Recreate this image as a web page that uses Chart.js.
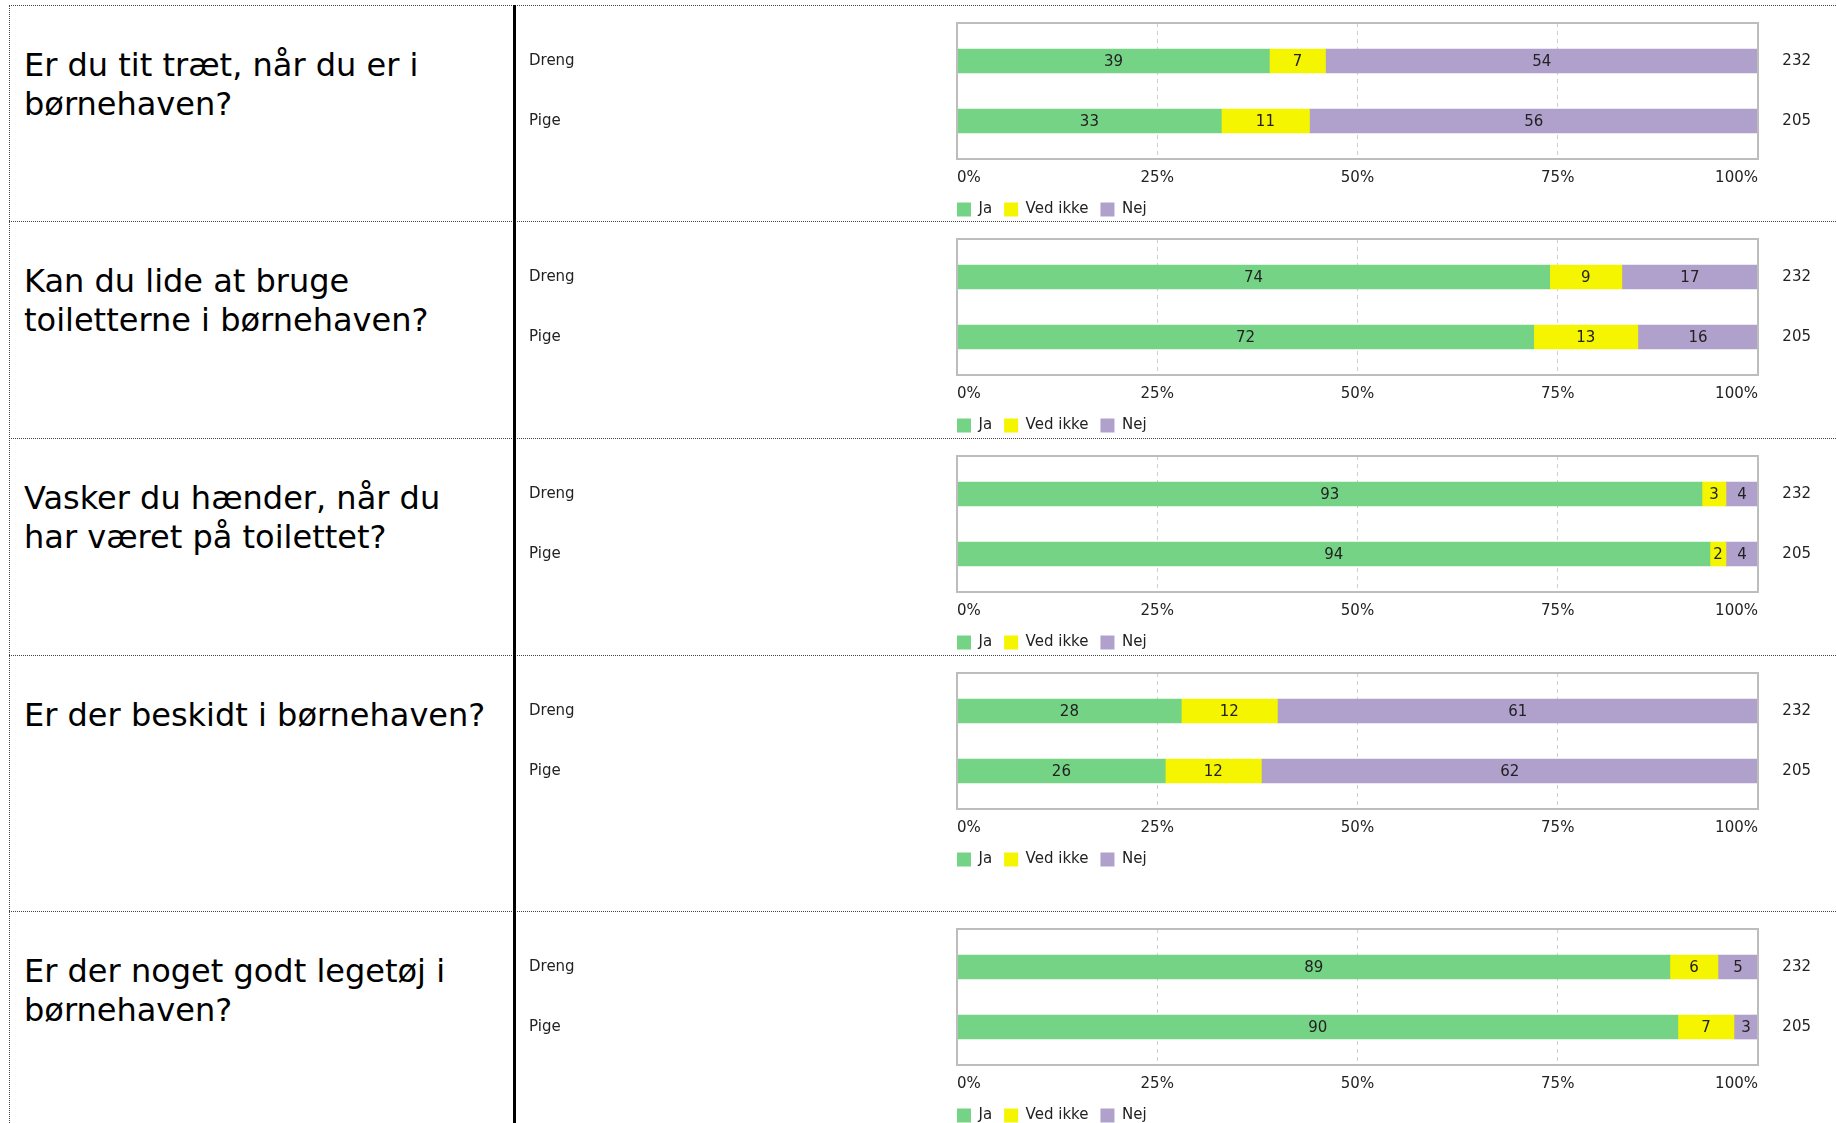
<!DOCTYPE html>
<html><head><meta charset="utf-8">
<script src="https://cdn.jsdelivr.net/npm/chart.js@4.4.1/dist/chart.umd.min.js"></script>
<style>
html,body{margin:0;padding:0;background:#fff;}
body{width:1836px;height:1123px;overflow:hidden;position:relative;font-family:"DejaVu Sans",Verdana,sans-serif;}
.hline{position:absolute;left:9px;right:0;height:0;border-top:1px dotted #444;}
.vdot{position:absolute;top:5px;bottom:0;left:9px;width:0;border-left:1px dotted #444;}
.vsolid{position:absolute;top:5px;bottom:0;left:513px;width:3px;background:#000;}
.q{position:absolute;left:24px;font-size:32px;line-height:39px;color:#000;white-space:pre-line;}
.cw{position:absolute;left:529px;width:1282px;height:214px;}
</style></head><body>
<script>
const questions = [
  "Er du tit træt, når du er i\nbørnehaven?",
  "Kan du lide at bruge\ntoiletterne i børnehaven?",
  "Vasker du hænder, når du\nhar været på toilettet?",
  "Er der beskidt i børnehaven?",
  "Er der noget godt legetøj i\nbørnehaven?"
];
const categories = ["Dreng", "Pige"];
const seriesNames = ["Ja", "Ved ikke", "Nej"];
const jaValues      = [[39, 33], [74, 72], [93, 94], [28, 26], [89, 90]];
const vedIkkeValues = [[7, 11],  [9, 13],  [3, 2],   [12, 12], [6, 7]];
const nejValues     = [[54, 56], [17, 16], [4, 4],   [61, 62], [5, 3]];
const respondents   = [[232, 205], [232, 205], [232, 205], [232, 205], [232, 205]];
const xTickValues = [0, 25, 50, 75, 100];

const seriesValues = [jaValues, vedIkkeValues, nejValues];
const seriesColors = ["#75d385", "#f5f500", "#b0a0cc"];
const rowTops = [5, 221, 438, 655, 911];
const FONT = "DejaVu Sans";

function el(cls, css) {
  const d = document.createElement('div');
  d.className = cls;
  Object.assign(d.style, css || {});
  document.body.appendChild(d);
  return d;
}
rowTops.forEach(t => el('hline', {top: t + 'px'}));
el('vdot');
el('vsolid');

const plotBox = {
  id: 'plotBox',
  afterDatasetsDraw(chart) {
    const a = chart.chartArea, ctx = chart.ctx;
    ctx.save();
    ctx.strokeStyle = '#bdbdbd';
    ctx.lineWidth = 2;
    ctx.strokeRect(a.left, a.top, a.right - a.left, a.bottom - a.top);
    ctx.restore();
  }
};
const valueLabels = {
  id: 'valueLabels',
  afterDatasetsDraw(chart) {
    const ctx = chart.ctx, a = chart.chartArea;
    ctx.save();
    ctx.font = '15px "' + FONT + '"';
    ctx.fillStyle = '#222';
    ctx.textAlign = 'center';
    ctx.textBaseline = 'middle';
    chart.data.datasets.forEach((ds, di) => {
      const meta = chart.getDatasetMeta(di);
      meta.data.forEach((bar, i) => {
        const v = ds.data[i].x;
        const x1 = Math.max(Math.min(bar.x, bar.base), a.left);
        const x2 = Math.min(Math.max(bar.x, bar.base), a.right);
        ctx.fillText(String(v), (x1 + x2) / 2, bar.y + 1);
      });
    });
    ctx.restore();
  }
};
const legendShift = {
  id: 'legendShift',
  afterLayout(chart) {
    const lg = chart.legend;
    if (lg) {
      const p = lg.options.labels.padding;
      lg.left -= p; lg.right -= p;
    }
  }
};

questions.forEach((qText, q) => {
  const S = rowTops[q];
  const qd = el('q', {top: (S + 41) + 'px'});
  qd.textContent = qText;

  const wrap = el('cw', {top: (S + 8) + 'px'});
  const canvas = document.createElement('canvas');
  canvas.width = 1282; canvas.height = 214;
  wrap.appendChild(canvas);

  const yCommon = {
    type: 'linear', reverse: true, min: -0.633, max: 1.633, stacked: true, offset: false,
    afterBuildTicks: s => { s.ticks = categories.map((c, i) => ({value: i})); },
    grid: {display: false, drawTicks: false, offset: false},
    border: {display: false}
  };

  new Chart(canvas, {
    type: 'bar',
    data: {
      datasets: seriesNames.map((name, si) => ({
        label: name,
        data: categories.map((c, ci) => ({x: seriesValues[si][q][ci], y: ci})),
        backgroundColor: seriesColors[si],
        borderWidth: 0,
        barThickness: 24,
        clip: 0,
        xAxisID: 'x', yAxisID: 'y'
      }))
    },
    options: {
      indexAxis: 'y',
      responsive: false,
      animation: false,
      devicePixelRatio: 1,
      layout: {padding: {top: 10, left: 0, right: 0, bottom: 0}},
      plugins: {
        legend: {
          display: true, position: 'bottom', align: 'start', fullSize: false,
          labels: {boxWidth: 14, boxHeight: 14, padding: 12, color: '#222',
                   font: {family: FONT, size: 15}}
        },
        tooltip: {enabled: false}
      },
      scales: {
        x: {
          type: 'linear', position: 'bottom', min: 0, max: 100, stacked: true,
          afterBuildTicks: s => { s.ticks = xTickValues.map(v => ({value: v})); },
          afterFit: s => { s.height = 31; },
          grid: {color: '#cfcfcf', lineWidth: 1, drawTicks: false},
          border: {display: false, dash: [4, 4]},
          ticks: {align: 'inner', padding: 10, color: '#222', maxRotation: 0, autoSkip: false,
                  font: {family: FONT, size: 15}, callback: v => v + '%'}
        },
        y: Object.assign({}, yCommon, {
          position: 'left',
          afterFit: s => { s.width = 428; },
          ticks: {crossAlign: 'far', padding: 0, color: '#222', font: {family: FONT, size: 15},
                  callback: v => categories[v]}
        }),
        yN: Object.assign({}, yCommon, {
          position: 'right',
          afterFit: s => { s.width = 53; },
          ticks: {crossAlign: 'far', padding: 0, color: '#222', font: {family: FONT, size: 15},
                  callback: v => String(respondents[q][v])}
        })
      }
    },
    plugins: [plotBox, valueLabels, legendShift]
  });
});
</script>
</body></html>
